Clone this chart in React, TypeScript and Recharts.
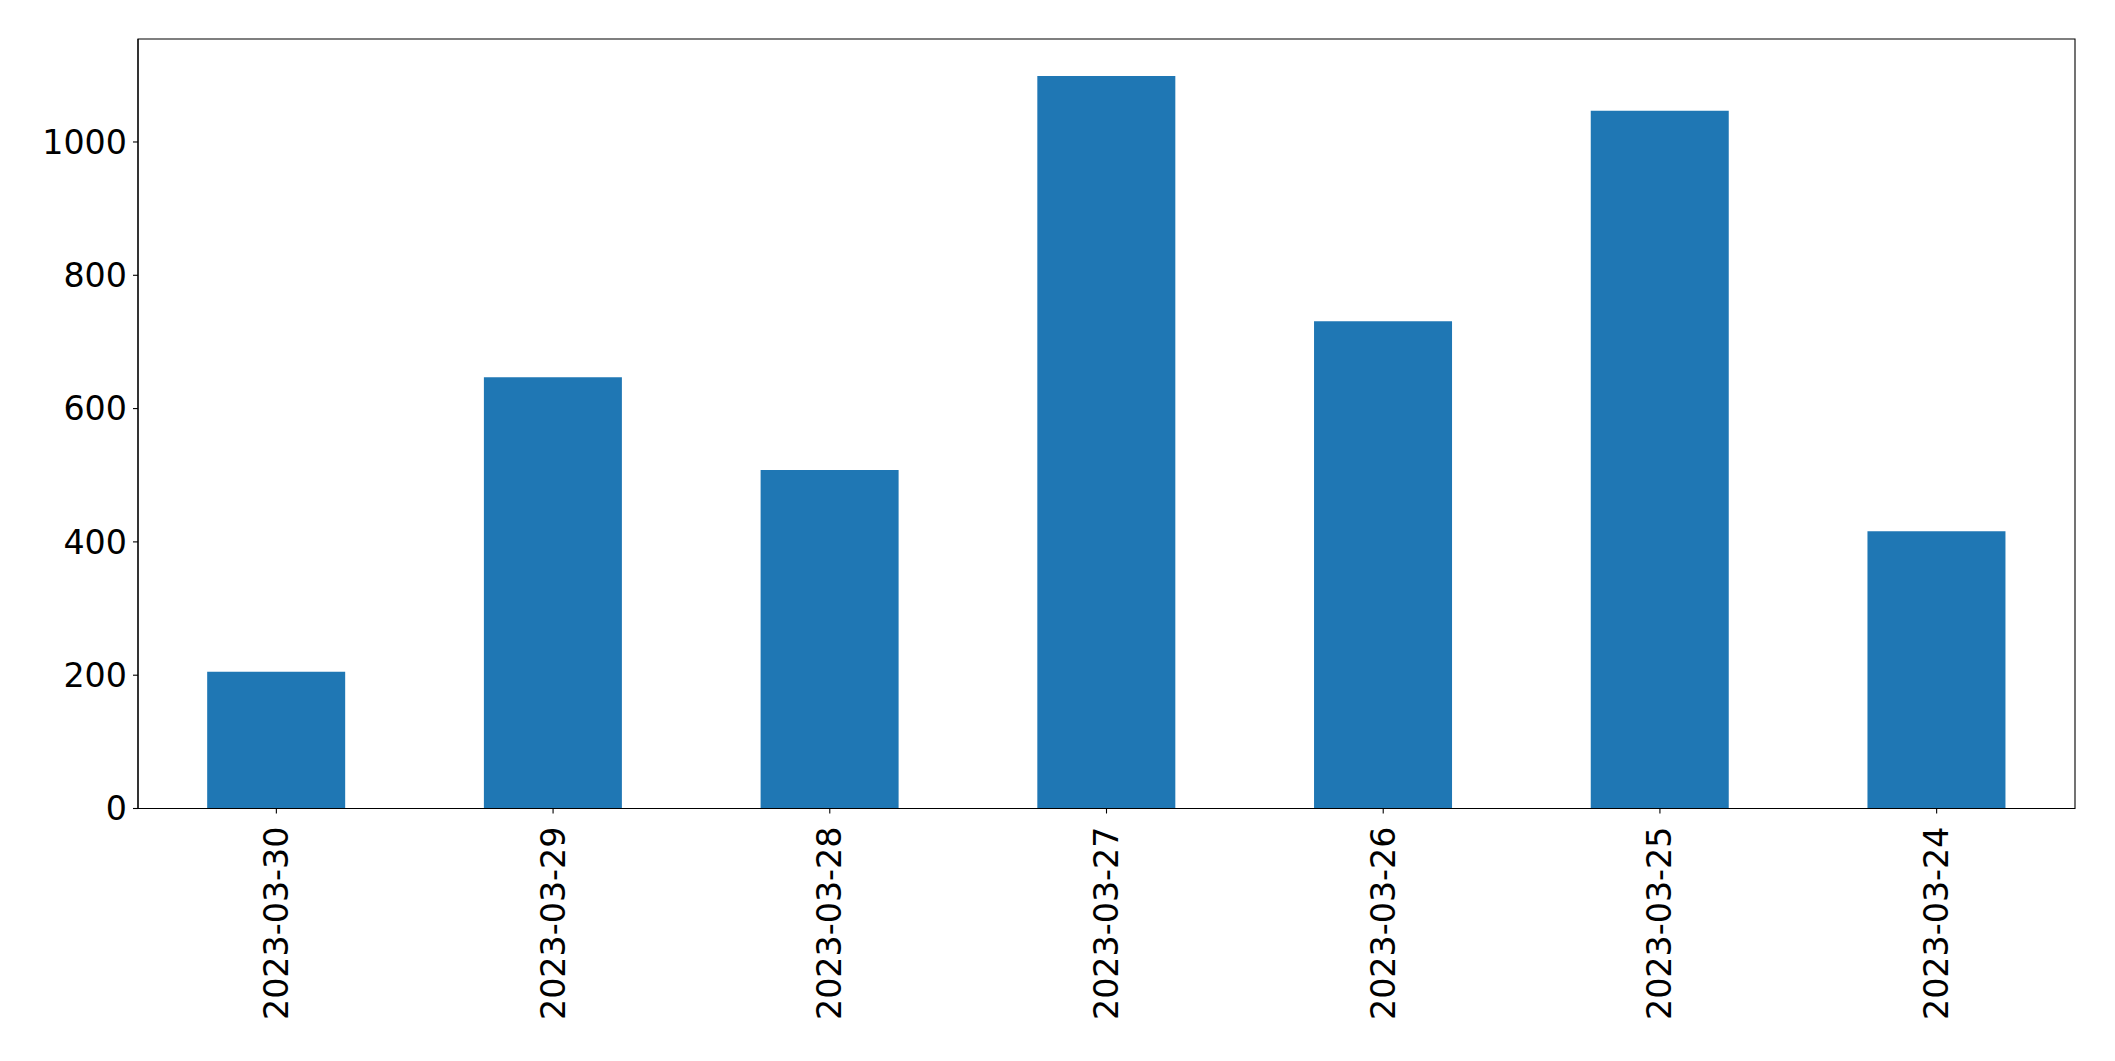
import { BarChart, Bar, XAxis, YAxis, ReferenceArea } from 'recharts';

const dates = ['2023-03-30', '2023-03-29', '2023-03-28', '2023-03-27', '2023-03-26', '2023-03-25', '2023-03-24'];
const counts = [205, 647, 508, 1099, 731, 1047, 416];
const yTicks = [0, 200, 400, 600, 800, 1000];

const data = dates.map((date, i) => ({ date, count: counts[i] }));

const font = 'DejaVu Sans, sans-serif';
const fontSize = 33.3;
const yMax = 1154.5;

function DateTick(props: any) {
  const { x, y, payload } = props;
  return (
    <text
      transform={`translate(${x},${y + 11}) rotate(-90)`}
      textAnchor="end"
      dominantBaseline="central"
      fontFamily={font}
      fontSize={fontSize}
      fill="#000"
    >
      {payload.value}
    </text>
  );
}

export default function App() {
  return (
    <div style={{ position: 'absolute', left: 0, top: 0, background: '#fff' }}>
      <BarChart
        width={2115}
        height={1061}
        data={data}
        margin={{ top: 39, right: 40, left: 0, bottom: 0 }}
        barCategoryGap="25%"
      >
        <XAxis
          dataKey="date"
          height={252.5}
          stroke="#000"
          tick={<DateTick />}
          tickSize={5}
          interval={0}
          axisLine={{ stroke: '#000', strokeWidth: 1.1 }}
          tickLine={{ stroke: '#000', strokeWidth: 1.1 }}
        />
        <YAxis
          width={138}
          domain={[0, yMax]}
          ticks={yTicks}
          stroke="#000"
          tickSize={5}
          tickMargin={6}
          tick={{ fontFamily: font, fontSize, fill: '#000' }}
          axisLine={{ stroke: '#000', strokeWidth: 1.1 }}
          tickLine={{ stroke: '#000', strokeWidth: 1.1 }}
        />
        <Bar dataKey="count" fill="#1f77b4" isAnimationActive={false} />
        <ReferenceArea y1={0} y2={yMax} fill="none" fillOpacity={0} stroke="#000" strokeWidth={1.1} />
      </BarChart>
    </div>
  );
}
